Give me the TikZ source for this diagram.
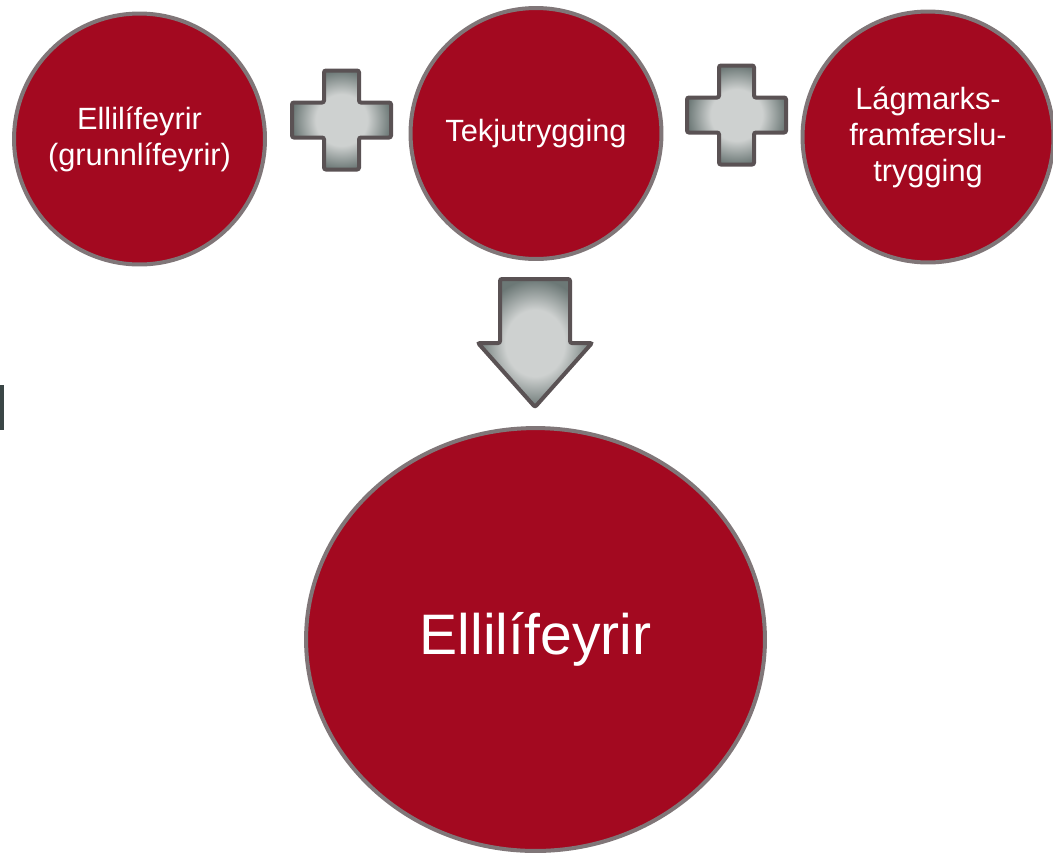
\documentclass[tikz,border=0pt]{standalone}
\usepackage{fontspec}
\setmainfont{Liberation Sans}
\usetikzlibrary{shapes.geometric}

\definecolor{pensionred}{RGB}{163,9,32}
\definecolor{ringgray}{RGB}{128,118,120}
\definecolor{blockedge}{RGB}{90,82,84}
\definecolor{blocklight}{RGB}{206,209,208}
\definecolor{blockdark}{RGB}{108,120,118}
\definecolor{sidebar}{RGB}{58,70,70}

\pgfdeclareradialshading{blockglow}{\pgfpoint{0bp}{0bp}}{%
	color(0bp)=(blocklight); color(13bp)=(blocklight);
	color(25bp)=(blockdark); color(50bp)=(blockdark)}

\tikzset{
	bubble/.style={circle, fill=pensionred, draw=ringgray, line width=0.08cm,
		minimum size=5.02cm, inner sep=0pt, align=center, text=white,
		font=\fontsize{17.5}{20.5}\selectfont},
	bigbubble/.style={ellipse, fill=pensionred, draw=ringgray, line width=0.08cm,
		minimum width=9.18cm, minimum height=8.46cm, inner sep=0pt, text=white,
		font=\fontsize{32.5}{38}\selectfont},
	block/.style={draw=blockedge, line width=0.08cm, rounded corners=0.04cm,
		shade, shading=blockglow},
}

\begin{document}
\begin{tikzpicture}[x=0.02cm, y=-0.02cm]
		\useasboundingbox (0, 0) rectangle (1053, 853);

		\fill[sidebar]	(0, 385) rectangle (4, 430);

		\node[bubble] (grunn) at (139.5, 139) {Ellilífeyrir\\(grunnlífeyrir)};
		\node[bubble] (tekju) at (536, 133.5) {Tekjutrygging};
		\node[bubble] (lagmark) at (928, 137) {Lágmarks-\\framfærslu-\\trygging};

		\node[bigbubble] (elli) at (535.5, 639.5) {Ellilífeyrir};

		% plus signs
		\draw[block, shift={(341.5, 120)}]	(-17.5, -49.5) -- (17.5, -49.5) -- (17.5, -17.5) -- (49.5, -17.5)
							-- (49.5, 17.5) -- (17.5, 17.5) -- (17.5, 49.5) -- (-17.5, 49.5)
							-- (-17.5, 17.5) -- (-49.5, 17.5) -- (-49.5, -17.5) -- (-17.5, -17.5) -- cycle;
		\draw[block, shift={(736.5, 115)}]	(-17.5, -49.5) -- (17.5, -49.5) -- (17.5, -17.5) -- (49.5, -17.5)
							-- (49.5, 17.5) -- (17.5, 17.5) -- (17.5, 49.5) -- (-17.5, 49.5)
							-- (-17.5, 17.5) -- (-49.5, 17.5) -- (-49.5, -17.5) -- (-17.5, -17.5) -- cycle;

		% down arrow
		\draw[block]	(500, 279) -- (570, 279) -- (570, 343) -- (592, 343)
						-- (535, 407) -- (478, 343) -- (500, 343) -- cycle;
\end{tikzpicture}
\end{document}
